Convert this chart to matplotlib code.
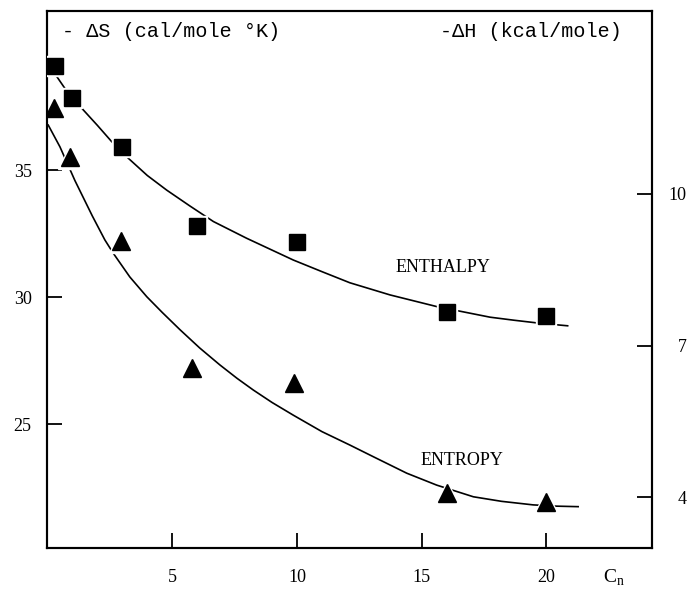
import matplotlib
matplotlib.use("Agg")
import matplotlib.pyplot as plt

cn_pts_H = [0.3, 1, 3, 6, 10, 16, 20]
dH_pts = [12.53, 11.89, 10.92, 9.37, 9.04, 7.67, 7.58]   # -dH, kcal/mole (squares)
cn_pts_S = [0.26, 0.9, 2.95, 5.8, 9.9, 16, 20]
dS_pts = [37.46, 35.52, 32.22, 27.22, 26.60, 22.27, 21.94]  # -dS, cal/mole K (triangles)

# hand-drawn smooth curves
cn_curve_H = [0.17, 0.74, 1.37, 2.0, 2.57, 3.24, 4.0, 4.78, 5.7, 6.65, 7.98, 9.85,
              11.0, 12.12, 13.73, 15.6, 17.74, 18.7, 19.74, 20.85]
dH_curve = [12.46, 12.05, 11.69, 11.35, 11.03, 10.70, 10.36, 10.07, 9.76, 9.45,
            9.12, 8.69, 8.46, 8.24, 8.0, 7.77, 7.56, 7.5, 7.44, 7.39]
cn_curve_S = [0.03, 0.5, 1.1, 1.8, 2.30, 2.64, 3.3, 3.98, 4.6, 5.31, 6.1, 6.91,
              7.6, 8.25, 9.0, 9.85, 11.0, 12.12, 13.06, 14.4, 15.6, 17.07, 18.2,
              19.47, 20.4, 21.27]
dS_curve = [36.79, 35.93, 34.6, 33.2, 32.26, 31.73, 30.8, 30.02, 29.4, 28.72,
            28.0, 27.33, 26.8, 26.34, 25.85, 25.35, 24.7, 24.17, 23.71, 23.06,
            22.59, 22.13, 21.95, 21.81, 21.76, 21.74]

x_ticks = [5, 10, 15, 20]
s_ticks = [25, 30, 35]
h_ticks = [4, 7, 10]

serif = "Liberation Serif"
mono = "Liberation Mono"

fig = plt.figure(figsize=(6.9, 5.93), dpi=100)
ax = fig.add_axes([0.0681, 0.0759, 0.8768, 0.9056])
ax2 = ax.twinx()

ax.set_xlim(-0.02, 24.23)
ax.set_ylim(20.11, 41.29)
ax2.set_ylim(3.0, 13.61)

# entropy on left scale
ax.plot(cn_curve_S, dS_curve, color="black", lw=1.2, zorder=2)
ax.plot(cn_pts_S, dS_pts, ls="none", marker="^", ms=17, color="white", zorder=3)
ax.plot(cn_pts_S, dS_pts, ls="none", marker="^", ms=12.5, color="black", zorder=4)

# enthalpy on right scale
ax2.plot(cn_curve_H, dH_curve, color="black", lw=1.2, zorder=2)
ax2.plot(cn_pts_H, dH_pts, ls="none", marker="s", ms=15, color="white", zorder=3)
ax2.plot(cn_pts_H, dH_pts, ls="none", marker="s", ms=11.5, color="black", zorder=4)

for a in (ax, ax2):
    for s in a.spines.values():
        s.set_linewidth(1.5)

ax.set_xticks(x_ticks)
ax.set_yticks(s_ticks)
ax2.set_yticks(h_ticks)
ax.tick_params(axis="x", direction="in", length=11, width=1.3, pad=15,
               labelsize=13, top=False)
ax.tick_params(axis="y", direction="in", length=11, width=1.3, pad=11,
               labelsize=13)
ax2.tick_params(axis="y", direction="in", length=11, width=1.3, pad=25,
                labelsize=13)
for lab in ax.get_xticklabels() + ax.get_yticklabels() + ax2.get_yticklabels():
    lab.set_fontfamily(serif)
for lab in ax2.get_yticklabels():
    lab.set_horizontalalignment("right")

ax.text(0.025, 0.961, "- \u0394S (cal/mole \u00b0K)", transform=ax.transAxes,
        family=mono, fontsize=14.5, va="center", ha="left")
ax.text(0.65, 0.961, "-\u0394H (kcal/mole)", transform=ax.transAxes,
        family=mono, fontsize=14.5, va="center", ha="left")

ax2.text(15.85, 8.55, "ENTHALPY", family=serif, fontsize=13, ha="center", va="center")
ax.text(16.6, 23.55, "ENTROPY", family=serif, fontsize=13, ha="center", va="center")

fig.text(603 / 690, 1 - 578 / 593, "C$_\\mathregular{n}$", family=serif,
         fontsize=14, ha="left", va="center")

fig.savefig("out.png", dpi=100)
